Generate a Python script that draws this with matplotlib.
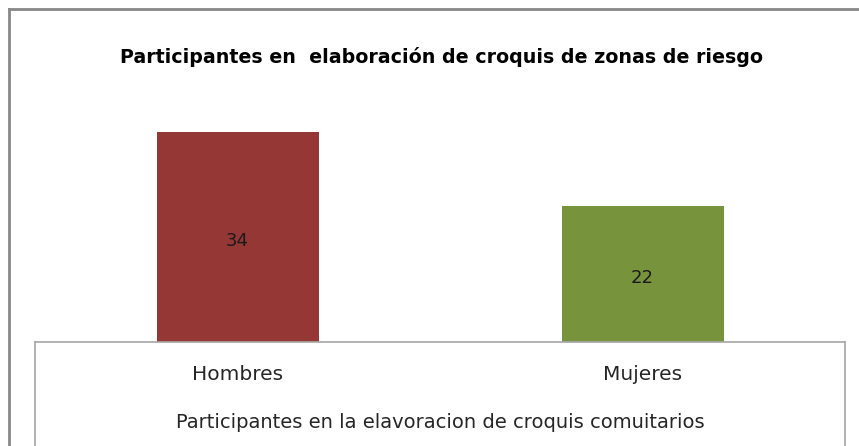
import matplotlib
matplotlib.use("Agg")
import matplotlib.pyplot as plt
from matplotlib.lines import Line2D

categories = ["Hombres", "Mujeres"]
values = [34, 22]
bar_colors = ["#953735", "#77933C"]
title = "Participantes en  elaboración de croquis de zonas de riesgo"
xlabel = "Participantes en la elavoracion de croquis comuitarios"

W, H = 859, 446
fig = plt.figure(figsize=(W / 100, H / 100), dpi=100)
fig.patch.set_facecolor("white")

def fx(px):
    return px / W

def fy(py):
    return 1 - py / H

ax_left, ax_right, ax_bottom, ax_top = 35, 845, 342, 95
ax = fig.add_axes([fx(ax_left), fy(ax_bottom), fx(ax_right - ax_left), (ax_bottom - ax_top) / H])
ax.bar(range(len(categories)), values, width=0.4, color=bar_colors)
ax.set_xlim(-0.5, 1.5)
ax.set_ylim(0, 40)
ax.axis("off")
for i, v in enumerate(values):
    ax.annotate(str(v), (i, v / 2), xytext=(0, -3), textcoords="offset points",
                ha="center", va="center", fontsize=13,
                family="DejaVu Sans", color="#1a1a1a")

# bottom category box
gray = "#a6a6a6"
fig.add_artist(Line2D([fx(ax_left), fx(ax_right)], [fy(ax_bottom), fy(ax_bottom)], color=gray, lw=1.2))
fig.add_artist(Line2D([fx(ax_left), fx(ax_left)], [fy(ax_bottom), 0], color=gray, lw=1.2))
fig.add_artist(Line2D([fx(ax_right), fx(ax_right)], [fy(ax_bottom), 0], color=gray, lw=1.2))

# category labels
for i, c in enumerate(categories):
    xpos = ax_left + (ax_right - ax_left) * (i + 0.5) / len(categories)
    fig.text(fx(xpos), fy(375), c, ha="center", va="center", fontsize=14.5,
             family="DejaVu Sans", color="#262626")
fig.text(fx(440), fy(422), xlabel, ha="center", va="center", fontsize=14,
         family="DejaVu Sans", color="#262626")

# title
fig.text(fx(441), fy(57), title, ha="center", va="center", fontsize=13.7,
         family="DejaVu Sans", fontweight="bold", color="black")

# outer frame
frame = "#888888"
fig.add_artist(Line2D([fx(9), 1], [fy(9), fy(9)], color=frame, lw=2))
fig.add_artist(Line2D([fx(9), fx(9)], [fy(9), 0], color=frame, lw=2))

fig.savefig("out.png", dpi=100, facecolor="white")
